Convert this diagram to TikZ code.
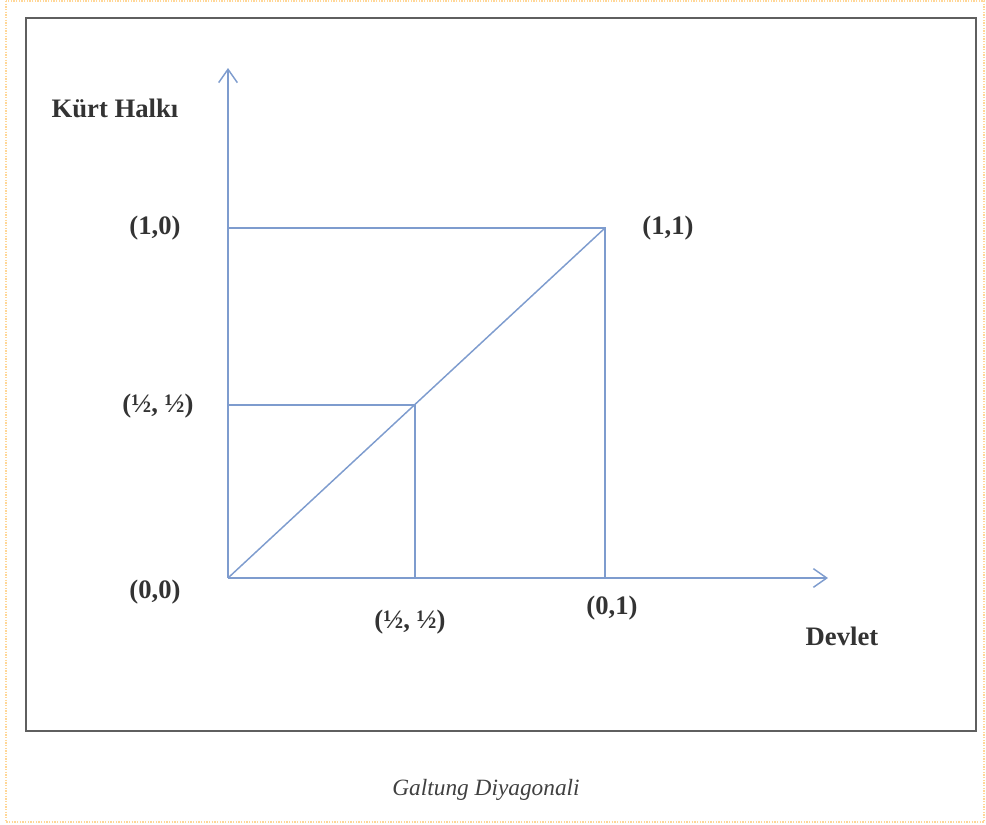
\documentclass[tikz,border=0pt]{standalone}
\usepackage{fontspec}
\setmainfont{Liberation Serif}
\usetikzlibrary{positioning,arrows.meta}
\definecolor{axisblue}{RGB}{126,156,206}
\definecolor{pageorange}{RGB}{255,214,150}
\definecolor{framegray}{RGB}{95,95,95}

\begin{document}
\begin{tikzpicture}[x=0.75pt,y=-0.75pt,
  lbl/.style={font=\bfseries\fontsize{20}{24}\selectfont,text=black!80},
  capt/.style={font=\itshape\fontsize{17.5}{20}\selectfont,text=black!75},
  axis/.style={draw=axisblue,line width=1.1pt,-{Straight Barb[length=10pt,width=14pt]}},
  guide/.style={draw=axisblue,line width=1.1pt}]
\useasboundingbox (0,0) rectangle (986,825);

% page and frame
\draw[pageorange,line width=1pt,densely dotted] (6,1) rectangle (984,822);
\draw[framegray,line width=1.5pt] (26,18) rectangle (976,731);

% points
\coordinate (O)  at (228,578);
\coordinate (Xe) at (828,578);
\coordinate (Ye) at (228,68);
\coordinate (B)  at (228,228);
\coordinate (A)  at (605,228);
\coordinate (C)  at (605,578);
\coordinate (H)  at (415,405);
\coordinate (Hy) at (228,405);
\coordinate (Hx) at (415,578);

% axes
\draw[axis] (O) -- (Xe);
\draw[axis] (O) -- (Ye);

% square, half square and diagonal
\draw[guide] (B) -- (A) -- (C);
\draw[guide] (Hy) -- (H) -- (Hx);
\draw[guide] (O) -- (A);

% labels
\node[lbl] (l10)    at (155,228) {(1,0)};
\node[lbl] (lhy)    at (158,406) {(½, ½)};
\node[lbl] (l00)    at (155,592) {(0,0)};
\node[lbl] (lhx)    at (410,622) {(½, ½)};
\node[lbl] (l01)    at (612,608) {(0,1)};
\node[lbl] (l11)    at (668,228) {(1,1)};
\node[lbl] (devlet) at (842,636) {Devlet};
\node[lbl] (kurt)   at (115,108) {Kürt Halkı};

\node[capt] (caption) at (486,790) {Galtung Diyagonali};
\end{tikzpicture}
\end{document}
